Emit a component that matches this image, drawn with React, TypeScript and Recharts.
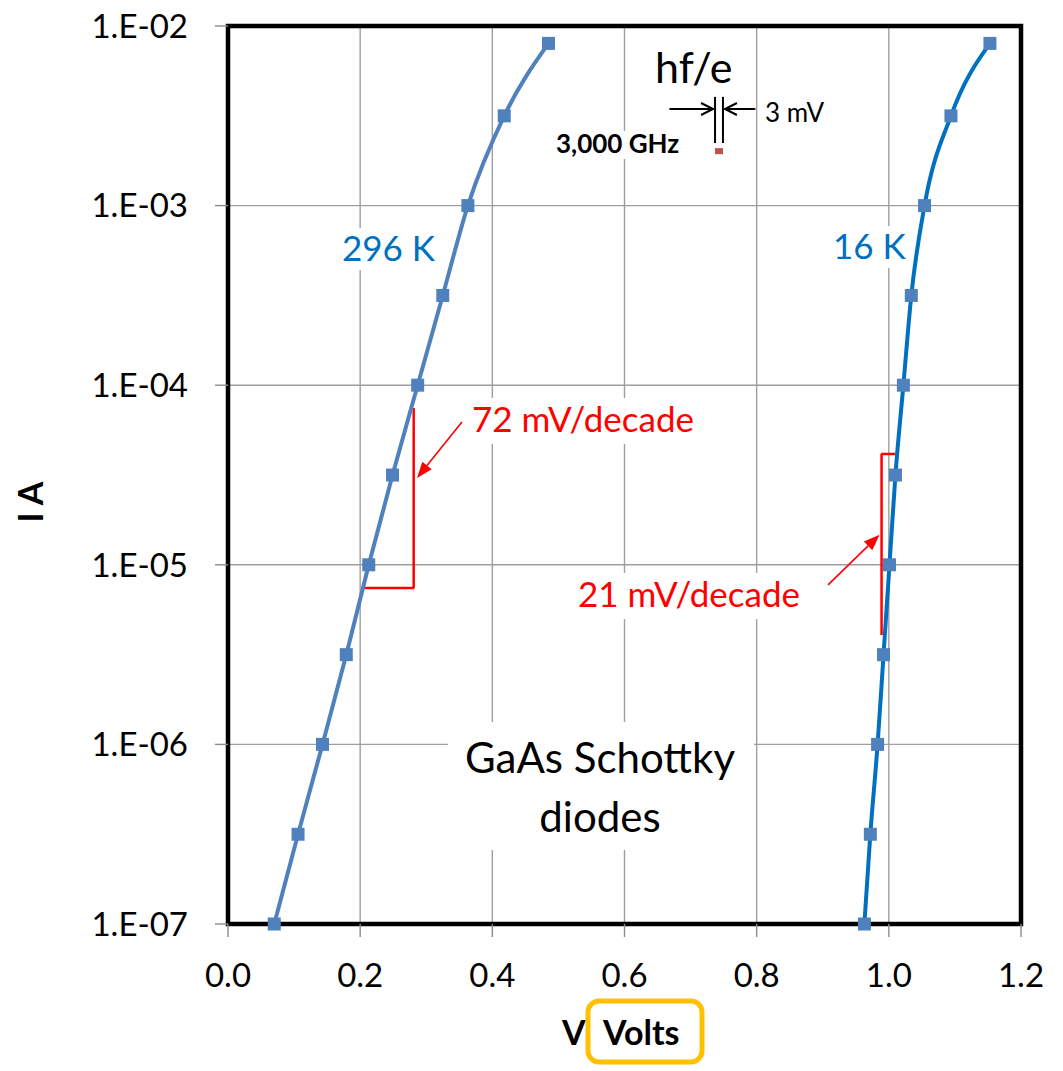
import React from "react";
import {
  LineChart,
  Line,
  XAxis,
  YAxis,
  CartesianGrid,
  ReferenceLine,
  ReferenceArea,
  ReferenceDot,
} from "recharts";

// ---- Data ----
const voltsTicks = [0, 0.2, 0.4, 0.6, 0.8, 1.0, 1.2];
const currentTicks = [1e-7, 1e-6, 1e-5, 1e-4, 1e-3, 1e-2];

const currents296K = [1e-7, 3.16e-7, 1e-6, 3.16e-6, 1e-5, 3.16e-5, 1e-4, 3.16e-4, 1e-3, 3.16e-3, 8e-3];
const volts296K = [0.07, 0.106, 0.143, 0.179, 0.213, 0.249, 0.287, 0.325, 0.363, 0.418, 0.485];

const currents16K = [1e-7, 3.16e-7, 1e-6, 3.16e-6, 1e-5, 3.16e-5, 1e-4, 3.16e-4, 1e-3, 3.16e-3, 8e-3];
const volts16K = [0.963, 0.972, 0.983, 0.992, 1.001, 1.01, 1.022, 1.034, 1.054, 1.094, 1.153];

const series296K = volts296K.map((v, i) => ({ v, i: currents296K[i] }));
const series16K = volts16K.map((v, i) => ({ v, i: currents16K[i] }));

const FONT = "Lato, 'Open Sans', sans-serif";
const RED = "#FF0000";

const SquareDot = (props: any) => {
  const { cx, cy, index } = props;
  if (cx == null || cy == null) return null;
  return <rect key={index} x={cx - 6.5} y={cy - 6.5} width={13} height={13} fill="#4F81BD" />;
};

const arrowShape = (color: string, filled: boolean, width: number) => (props: any) => {
  const { x1, y1, x2, y2 } = props;
  const ang = Math.atan2(y2 - y1, x2 - x1);
  const L = filled ? 16 : 12;
  const W = 6;
  const c = Math.cos(ang);
  const s = Math.sin(ang);
  const bx = x2 - L * c;
  const by = y2 - L * s;
  const p1x = bx + W * s;
  const p1y = by - W * c;
  const p2x = bx - W * s;
  const p2y = by + W * c;
  if (filled) {
    return (
      <g>
        <line x1={x1} y1={y1} x2={bx} y2={by} stroke={color} strokeWidth={width} />
        <polygon points={`${x2},${y2} ${p1x},${p1y} ${p2x},${p2y}`} fill={color} />
      </g>
    );
  }
  return (
    <g>
      <line x1={x1} y1={y1} x2={x2} y2={y2} stroke={color} strokeWidth={width} />
      <polyline
        points={`${p1x},${p1y} ${x2},${y2} ${p2x},${p2y}`}
        fill="none"
        stroke={color}
        strokeWidth={width}
      />
    </g>
  );
};

const Label = ({
  x,
  y,
  text,
  size,
  color = "#000",
  weight = "normal",
  anchor = "start",
  box,
}: any) => (
  <g>
    {box && <rect x={box[0]} y={box[1]} width={box[2]} height={box[3]} fill="#fff" />}
    <text
      x={x}
      y={y}
      fontSize={size}
      fill={color}
      fontWeight={weight}
      textAnchor={anchor}
      fontFamily={FONT}
    >
      {text}
    </text>
  </g>
);

const Overlay = () => (
  <svg
    width={1063}
    height={1071}
    style={{ position: "absolute", left: 0, top: 0, pointerEvents: "none" }}
  >
    <Label x={342} y={261} text="296 K" size={35} color="#0070C0" box={[336, 228, 102, 42]} />
    <Label x={833} y={259} text="16 K" size={35} color="#0070C0" box={[828, 226, 76, 42]} />
    <Label x={472} y={432} text="72 mV/decade" size={35} color={RED} box={[466, 398, 250, 46]} />
    <Label x={578} y={607} text="21 mV/decade" size={35} color={RED} box={[572, 573, 250, 46]} />
    <Label x={600} y={773} text="GaAs Schottky" size={42} anchor="middle" box={[448, 722, 306, 128]} />
    <Label x={600} y={832} text="diodes" size={42} anchor="middle" />
    <Label x={655} y={83} text="hf/e" size={43} box={[650, 44, 88, 46]} />
    <Label x={765} y={122} text="3 mV" size={26} box={[760, 100, 72, 28]} />
    <Label x={556} y={153} text="3,000 GHz" size={26} weight="bold" box={[550, 131, 142, 28]} />
    <text
      transform="translate(43,502) rotate(-90)"
      textAnchor="middle"
      fontSize={34}
      fontWeight="bold"
      fontFamily={FONT}
      fill="#000"
    >
      I A
    </text>
    <text x={562} y={1045} fontSize={34} fontWeight="bold" fontFamily={FONT} fill="#000">
      V
    </text>
    <rect x={588} y={1001} width={114} height={61} rx={11} ry={11} fill="none" stroke="#FFC000" strokeWidth={5} />
    <text x={603} y={1045} fontSize={34} fontWeight="bold" fontFamily={FONT} fill="#000">
      Volts
    </text>
  </svg>
);

export default function App() {
  const fmtY = (v: number) => `1.E-0${Math.round(-Math.log10(v))}`;
  const fmtX = (v: number) => v.toFixed(1);
  return (
    <div style={{ position: "absolute", left: 0, top: 0, width: 1063, height: 1071, background: "#fff" }}>
      <LineChart
        width={1063}
        height={1071}
        margin={{ top: 26, right: 42, bottom: 67, left: 128 }}
      >
        <CartesianGrid stroke="#9E9E9E" strokeWidth={1.4} />
        <XAxis
          type="number"
          dataKey="v"
          domain={[0, 1.2]}
          ticks={voltsTicks}
          tickFormatter={fmtX}
          axisLine={false}
          tickLine={{ stroke: "#8C8C8C", strokeWidth: 1.4 }}
          tickSize={13}
          tickMargin={27}
          height={80}
          tick={{ fontSize: 33, fill: "#000", fontFamily: FONT }}
        />
        <YAxis
          type="number"
          dataKey="i"
          scale="log"
          domain={[1e-7, 1e-2]}
          ticks={currentTicks}
          tickFormatter={fmtY}
          axisLine={false}
          tickLine={{ stroke: "#8C8C8C", strokeWidth: 1.4 }}
          tickSize={13}
          tickMargin={27}
          width={100}
          tick={{ fontSize: 33, fill: "#000", fontFamily: FONT }}
        />
        <ReferenceArea
          x1={0}
          x2={1.2}
          y1={1e-7}
          y2={1e-2}
          fill="none"
          stroke="#000"
          strokeWidth={4.5}
          fillOpacity={0}
        />
        {/* 72 mV/decade slope marker */}
        <ReferenceLine segment={[{ x: 0.281, y: 7.46e-5 }, { x: 0.281, y: 7.43e-6 }]} stroke={RED} strokeWidth={2.5} />
        <ReferenceLine segment={[{ x: 0.204, y: 7.43e-6 }, { x: 0.282, y: 7.43e-6 }]} stroke={RED} strokeWidth={2.5} />
        <ReferenceLine
          segment={[{ x: 0.354, y: 6.24e-5 }, { x: 0.286, y: 3.04e-5 }]}
          stroke={RED}
          shape={arrowShape(RED, true, 1.6)}
        />
        {/* 21 mV/decade slope marker */}
        <ReferenceLine segment={[{ x: 0.989, y: 4.14e-5 }, { x: 0.989, y: 4.06e-6 }]} stroke={RED} strokeWidth={2.5} />
        <ReferenceLine segment={[{ x: 0.988, y: 4.14e-5 }, { x: 1.01, y: 4.14e-5 }]} stroke={RED} strokeWidth={2.5} />
        <ReferenceLine
          segment={[{ x: 0.908, y: 7.73e-6 }, { x: 0.986, y: 1.47e-5 }]}
          stroke={RED}
          shape={arrowShape(RED, true, 1.6)}
        />
        {/* hf/e = 3 mV marker */}
        <ReferenceLine segment={[{ x: 0.737, y: 4.03e-3 }, { x: 0.737, y: 2.23e-3 }]} stroke="#000" strokeWidth={2} />
        <ReferenceLine segment={[{ x: 0.749, y: 4.03e-3 }, { x: 0.749, y: 2.23e-3 }]} stroke="#000" strokeWidth={2} />
        <ReferenceLine
          segment={[{ x: 0.668, y: 3.45e-3 }, { x: 0.734, y: 3.45e-3 }]}
          stroke="#000"
          shape={arrowShape("#000", false, 2)}
        />
        <ReferenceLine
          segment={[{ x: 0.798, y: 3.45e-3 }, { x: 0.752, y: 3.45e-3 }]}
          stroke="#000"
          shape={arrowShape("#000", false, 2)}
        />
        <ReferenceDot
          x={0.743}
          y={2.01e-3}
          shape={(p: any) => <rect x={p.cx - 4} y={p.cy - 3} width={8} height={6} fill="#C0504D" />}
        />
        <Line
          data={series296K}
          dataKey="i"
          type="monotone"
          stroke="#4F81BD"
          strokeWidth={4}
          dot={SquareDot}
          activeDot={false}
          isAnimationActive={false}
        />
        <Line
          data={series16K}
          dataKey="i"
          type="monotone"
          stroke="#0070C0"
          strokeWidth={4}
          dot={SquareDot}
          activeDot={false}
          isAnimationActive={false}
        />
      </LineChart>
      <Overlay />
    </div>
  );
}
